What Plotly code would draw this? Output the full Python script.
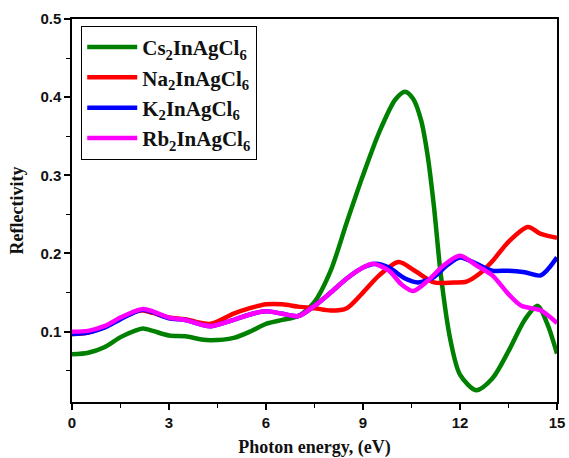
import plotly.graph_objects as go

# Cs2InAgCl6 (green)
cs_x = [0, 0.5, 1, 1.5, 2, 2.2, 2.5, 3, 3.5, 4, 4.3, 5, 5.5, 6, 6.5, 7, 7.5, 8, 8.5, 9, 9.5, 10, 10.3, 10.55, 10.8, 11.0, 11.2, 11.4, 11.7, 12.0, 12.5, 13, 13.5, 14, 14.4, 14.7, 15]
cs_y = [0.071, 0.073, 0.080, 0.093, 0.102, 0.104, 0.101, 0.095, 0.094, 0.090, 0.089, 0.092, 0.100, 0.110, 0.115, 0.120, 0.138, 0.178, 0.240, 0.300, 0.355, 0.397, 0.407, 0.398, 0.370, 0.325, 0.258, 0.175, 0.090, 0.045, 0.025, 0.040, 0.075, 0.115, 0.133, 0.110, 0.072]

# Na2InAgCl6 (red)
na_x = [0, 0.5, 1, 1.5, 2, 2.2, 2.5, 3, 3.5, 4, 4.3, 5, 5.5, 6, 6.5, 7, 7.5, 8, 8.5, 9, 9.5, 10.1, 10.6, 11.2, 11.8, 12.2, 12.6, 13, 13.5, 14.1, 14.5, 15]
na_y = [0.097, 0.099, 0.106, 0.117, 0.126, 0.127, 0.124, 0.118, 0.116, 0.111, 0.110, 0.123, 0.130, 0.135, 0.135, 0.132, 0.130, 0.127, 0.130, 0.150, 0.172, 0.189, 0.178, 0.163, 0.163, 0.164, 0.174, 0.190, 0.215, 0.234, 0.225, 0.220]

# K2InAgCl6 (blue)
k_x = [0, 0.5, 1, 1.5, 2, 2.2, 2.5, 3, 3.5, 4, 4.3, 5, 5.5, 6, 6.5, 7, 7.5, 8, 8.5, 9, 9.4, 9.8, 10.3, 10.7, 11.2, 11.6, 12, 12.5, 13, 13.5, 14, 14.5, 15]
k_y = [0.097, 0.099, 0.105, 0.116, 0.126, 0.128, 0.125, 0.117, 0.115, 0.109, 0.107, 0.115, 0.122, 0.126, 0.123, 0.120, 0.133, 0.150, 0.168, 0.182, 0.187, 0.182, 0.168, 0.163, 0.170, 0.185, 0.195, 0.187, 0.178, 0.178, 0.176, 0.172, 0.195]

# Rb2InAgCl6 (magenta)
rb_x = [0, 0.5, 1, 1.5, 2, 2.2, 2.5, 3, 3.5, 4, 4.3, 5, 5.5, 6, 6.5, 7, 7.5, 8, 8.5, 9, 9.3, 9.8, 10.2, 10.55, 11, 11.5, 12, 12.5, 13, 13.5, 13.9, 14.5, 15]
rb_y = [0.100, 0.101, 0.107, 0.118, 0.127, 0.129, 0.126, 0.118, 0.115, 0.109, 0.107, 0.115, 0.122, 0.126, 0.123, 0.120, 0.133, 0.150, 0.168, 0.182, 0.187, 0.178, 0.160, 0.152, 0.165, 0.185, 0.197, 0.185, 0.172, 0.148, 0.133, 0.127, 0.111]

names = ["Cs<sub>2</sub>InAgCl<sub>6</sub>", "Na<sub>2</sub>InAgCl<sub>6</sub>",
         "K<sub>2</sub>InAgCl<sub>6</sub>", "Rb<sub>2</sub>InAgCl<sub>6</sub>"]
colors = ["#008000", "#ff0000", "#0000ff", "#ff00ff"]
series = [(cs_x, cs_y), (na_x, na_y), (k_x, k_y), (rb_x, rb_y)]

x_ticks = [0, 3, 6, 9, 12, 15]
y_ticks = [0.1, 0.2, 0.3, 0.4, 0.5]

fig = go.Figure()
for (xs, ys), nm, c in zip(series, names, colors):
    fig.add_trace(go.Scatter(x=xs, y=ys, name="<b>" + nm + "</b>", mode="lines",
                             line=dict(color=c, width=4.5, shape="spline", smoothing=0.8)))

axis_common = dict(showline=True, linecolor="black", linewidth=1.5, mirror=True,
                   ticks="outside", ticklen=6, tickwidth=1.5, tickcolor="black",
                   showgrid=False, zeroline=False, automargin=False,
                   tickfont=dict(family="Liberation Sans", size=15, color="#111"),
                   minor=dict(ticks="outside", ticklen=4, tickwidth=1.2, tickcolor="black"))

fig.update_xaxes(range=[0, 15], tickvals=x_ticks, ticktext=["<b>%d</b>" % v for v in x_ticks],
                 minor_dtick=1.5,
                 title=dict(text="<b>Photon energy, (eV)</b>", standoff=17,
                            font=dict(family="Liberation Serif", size=18, color="#111")),
                 **axis_common)
fig.update_yaxes(range=[0.01, 0.5], tickvals=y_ticks, ticktext=["<b>%.1f</b>" % v for v in y_ticks],
                 minor_dtick=0.05,
                 title=dict(text="<b>Reflectivity</b>", standoff=12,
                            font=dict(family="Liberation Serif", size=18, color="#111")),
                 **axis_common)

fig.update_layout(
    width=569, height=458,
    margin=dict(l=72, r=12, t=19, b=56),
    plot_bgcolor="white", paper_bgcolor="white",
    legend=dict(x=0.019, y=0.982, xanchor="left", yanchor="top",
                bordercolor="black", borderwidth=1, bgcolor="white",
                itemwidth=50, tracegroupgap=9,
                font=dict(family="Liberation Serif", size=21, color="#111")),
    showlegend=True,
)

fig.write_html("out.html", config={"displayModeBar": False},
               post_script="document.body.style.margin='0';")
